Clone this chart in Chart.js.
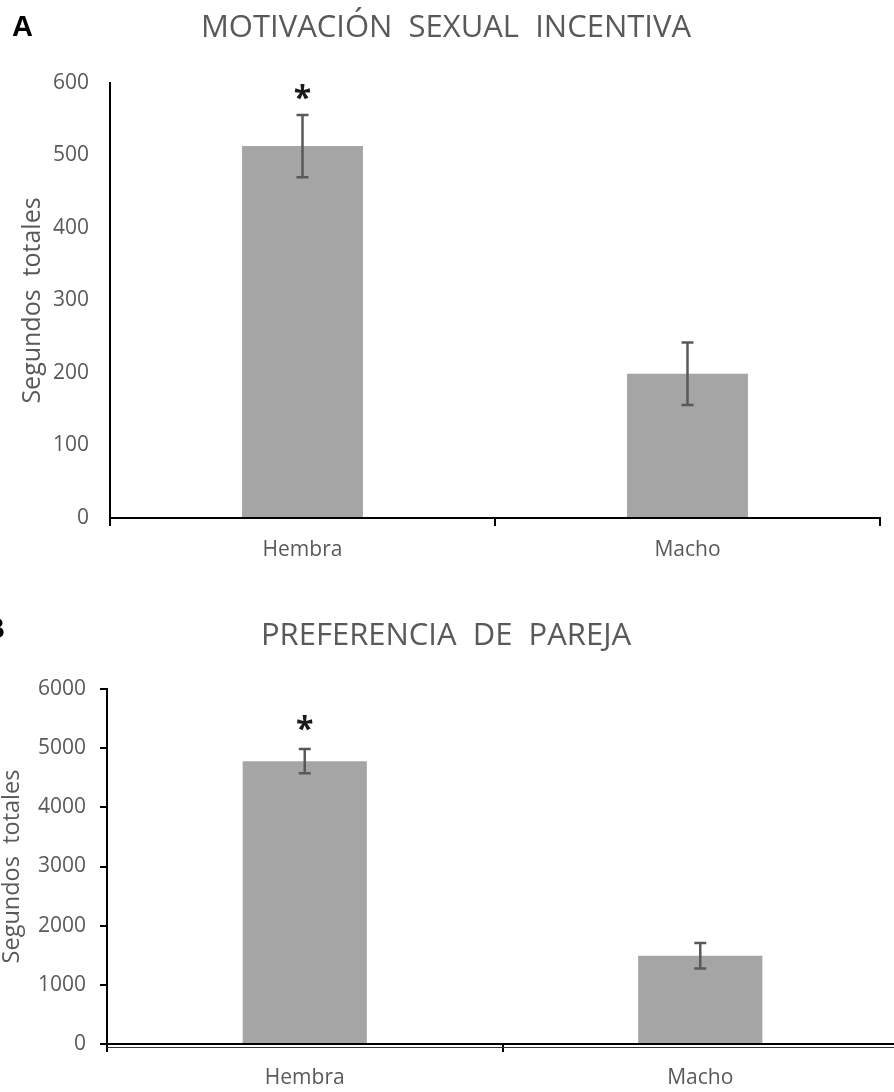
<!DOCTYPE html>
<html lang="es">
<head>
<meta charset="utf-8">
<title>Motivación sexual y preferencia de pareja</title>
<script src="https://cdn.jsdelivr.net/npm/chart.js@4.4.1/dist/chart.umd.min.js"></script>
<style>
  html, body { margin: 0; padding: 0; background: #fff; overflow: hidden; }
  .panel { position: relative; width: 894px; overflow: hidden; }
  #panelA { height: 580px; }
  #panelB { height: 512px; }
</style>
</head>
<body>
<div class="panel" id="panelA"><canvas id="chartA" width="894" height="580"></canvas></div>
<div class="panel" id="panelB"><canvas id="chartB" width="912" height="512"></canvas></div>
<script>
// datos
const categorias = ['Hembra', 'Macho'];

const tituloA = 'MOTIVACIÓN  SEXUAL  INCENTIVA';
const motivacionMedia = [513, 199];
const motivacionError = [43, 43];
const motivacionMarca = ['*', ''];
const motivacionEje = { min: 0, max: 600, paso: 100 };

const tituloB = 'PREFERENCIA  DE  PAREJA';
const preferenciaMedia = [4780, 1490];
const preferenciaError = [205, 215];
const preferenciaMarca = ['*', ''];
const preferenciaEje = { min: 0, max: 6000, paso: 1000 };

const tituloY = 'Segundos  totales';

const FUENTE = '"Open Sans", "Noto Sans", sans-serif';
const GRIS_TEXTO = '#595959';
const GRIS_BARRA = '#a5a5a5';

// barras de error + asterisco de significancia
const barrasError = {
    id: 'barrasError',
    afterDatasetsDraw(chart, args, opts) {
        const ctx = chart.ctx;
        const y = chart.scales.y;
        const meta = chart.getDatasetMeta(0);
        const valores = chart.data.datasets[0].data;
        ctx.save();
        ctx.strokeStyle = '#595959';
        ctx.lineWidth = 2.5;
        meta.data.forEach((barra, i) => {
            const v = valores[i];
            const e = opts.errores[i];
            const arriba = y.getPixelForValue(v + e);
            const abajo = y.getPixelForValue(v - e);
            const x = barra.x;
            ctx.beginPath();
            ctx.moveTo(x, arriba);
            ctx.lineTo(x, abajo);
            ctx.moveTo(x - 6, arriba);
            ctx.lineTo(x + 6, arriba);
            ctx.moveTo(x - 6, abajo);
            ctx.lineTo(x + 6, abajo);
            ctx.stroke();

            if (opts.marcas[i]) {
                ctx.fillStyle = '#1a1a1a';
                ctx.font = 'bold 32px ' + FUENTE;
                const m = ctx.measureText(opts.marcas[i]);
                const alto = m.actualBoundingBoxAscent + m.actualBoundingBoxDescent;
                const centro = arriba - opts.separacion;
                ctx.textAlign = 'center';
                ctx.textBaseline = 'alphabetic';
                ctx.fillText(opts.marcas[i], x, centro + alto / 2 - m.actualBoundingBoxDescent);
            }
        });
        ctx.restore();
    }
};

// letra del panel y título centrado
const textosPanel = {
    id: 'textosPanel',
    afterDraw(chart, args, opts) {
        const ctx = chart.ctx;
        ctx.save();
        ctx.fillStyle = '#000';
        ctx.font = 'bold 29px "Liberation Sans", Arial, sans-serif';
        ctx.textAlign = 'left';
        ctx.textBaseline = 'alphabetic';
        ctx.fillText(opts.letra, opts.letraX, opts.letraY);

        ctx.fillStyle = GRIS_TEXTO;
        ctx.font = '31px ' + FUENTE;
        ctx.textAlign = 'center';
        ctx.textBaseline = 'middle';
        ctx.fillText(opts.titulo, 446, opts.tituloY);
        ctx.restore();
    }
};

// segunda línea fina bajo el eje x (el eje del panel B se ve doble)
const ejeDoble = {
    id: 'ejeDoble',
    afterDraw(chart, args, opts) {
        if (!opts.activo) return;
        const ctx = chart.ctx;
        const cero = chart.scales.y.getPixelForValue(0);
        ctx.save();
        ctx.strokeStyle = '#333';
        ctx.lineWidth = 1;
        ctx.beginPath();
        ctx.moveTo(chart.chartArea.left, cero + 3.5);
        ctx.lineTo(chart.chartArea.right, cero + 3.5);
        ctx.stroke();
        ctx.restore();
    }
};

function crearGrafico(id, cfg) {
    return new Chart(document.getElementById(id), {
        type: 'bar',
        data: {
            labels: categorias,
            datasets: [{
                data: cfg.medias,
                backgroundColor: GRIS_BARRA,
                borderWidth: 0,
                categoryPercentage: 1,
                barPercentage: 0.314
            }]
        },
        options: {
            responsive: false,
            animation: false,
            layout: { padding: { top: cfg.arriba, right: 14, left: 0, bottom: 0 } },
            scales: {
                x: {
                    ticks: { color: GRIS_TEXTO, font: { family: FUENTE, size: 21 }, padding: cfg.padX },
                    grid: {
                        offset: true, drawOnChartArea: false, drawTicks: true,
                        tickLength: 8, color: '#000', lineWidth: 2
                    },
                    border: { color: '#000', width: 2 },
                    afterFit(s) { s.height = cfg.altoX; }
                },
                y: {
                    min: cfg.eje.min,
                    max: cfg.eje.max,
                    ticks: {
                        stepSize: cfg.eje.paso,
                        color: GRIS_TEXTO,
                        font: { family: FUENTE, size: 21 },
                        padding: cfg.marcasY ? 14 : 21,
                        callback: (v) => String(v)
                    },
                    grid: {
                        drawOnChartArea: false,
                        drawTicks: cfg.marcasY,
                        tickLength: 7,
                        color: '#000',
                        lineWidth: 2
                    },
                    border: { color: '#000', width: 2 },
                    title: {
                        display: true,
                        text: tituloY,
                        color: GRIS_TEXTO,
                        font: { family: FUENTE, size: cfg.tamTituloY, lineHeight: 1 },
                        padding: { top: cfg.tituloYx, bottom: 0 }
                    },
                    afterFit(s) { s.width = cfg.anchoY; }
                }
            },
            plugins: {
                legend: { display: false },
                tooltip: { enabled: false },
                barrasError: { errores: cfg.errores, marcas: cfg.marcas, separacion: cfg.separacion },
                textosPanel: { letra: cfg.letra, letraX: cfg.letraX, letraY: cfg.letraY, titulo: cfg.titulo, tituloY: cfg.tituloY },
                ejeDoble: { activo: cfg.doble }
            }
        },
        plugins: [barrasError, textosPanel, ejeDoble]
    });
}

crearGrafico('chartA', {
    medias: motivacionMedia, errores: motivacionError, marcas: motivacionMarca,
    eje: motivacionEje, titulo: tituloA, letra: 'A', letraX: 12, letraY: 36, tituloY: 28,
    arriba: 83, altoX: 62, anchoY: 110, marcasY: false, padX: 11,
    tamTituloY: 25, tituloYx: 20, separacion: 23, doble: false
});

crearGrafico('chartB', {
    medias: preferenciaMedia, errores: preferenciaError, marcas: preferenciaMarca,
    eje: preferenciaEje, titulo: tituloB, letra: 'B', letraX: -16, letraY: 58, tituloY: 56,
    arriba: 109, altoX: 48, anchoY: 107, marcasY: true, padX: 13,
    tamTituloY: 23.5, tituloYx: 1, separacion: 26, doble: true
});
</script>
</body>
</html>
